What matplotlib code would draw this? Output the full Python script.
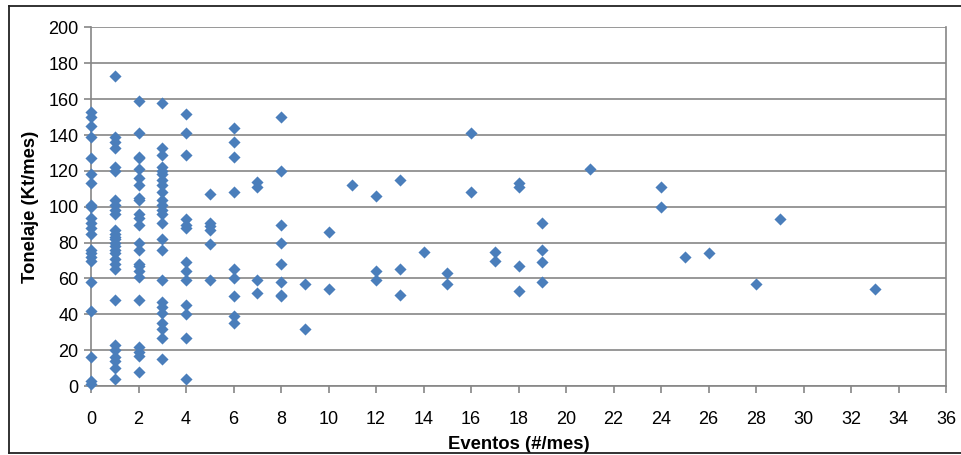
import matplotlib.pyplot as plt
from matplotlib.lines import Line2D

plt.rcParams['font.family'] = ['Liberation Sans', 'DejaVu Sans']

# Eventos (#/mes) and Tonelaje (Kt/mes), read column by column
ev_0 = [153, 150, 145, 139, 127, 118, 113, 101, 100, 94, 91, 88, 85, 76, 74, 72, 70, 58, 42, 16, 3, 1]
ev_1 = [173, 139, 136, 133, 122, 120, 104, 101, 98, 96, 87, 85, 83, 82, 80, 78, 76, 74, 71, 68, 65,
        48, 23, 20, 16, 14, 10, 4]
ev_2 = [159, 141, 128, 127, 121, 116, 112, 105, 104, 96, 94, 90, 80, 76, 68, 67, 64, 61, 48, 22, 19, 17, 8]
ev_3 = [158, 133, 129, 122, 120, 118, 115, 112, 108, 104, 101, 98, 96, 91, 82, 76, 59, 47, 44, 41,
        35, 32, 27, 15]
ev_4 = [152, 141, 129, 93, 90, 88, 69, 64, 59, 45, 40, 27, 4]
ev_5 = [107, 91, 89, 87, 79, 59]
ev_6 = [144, 136, 128, 108, 65, 60, 50, 39, 35]
ev_7 = [114, 111, 59, 52]
ev_8 = [150, 120, 90, 80, 68, 58, 51, 50]
rest_x = [9, 9, 10, 10, 11, 12, 12, 12, 13, 13, 13, 14, 15, 15, 16, 16, 17, 17, 18, 18, 18, 18,
          19, 19, 19, 19, 21, 24, 24, 25, 26, 28, 29, 33]
rest_y = [57, 32, 86, 54, 112, 106, 64, 59, 115, 65, 51, 75, 63, 57, 141, 108, 75, 70, 113, 111, 67, 53,
          91, 76, 69, 58, 121, 111, 100, 72, 74, 57, 93, 54]

columns = [ev_0, ev_1, ev_2, ev_3, ev_4, ev_5, ev_6, ev_7, ev_8]
eventos = []
tonelaje = []
for k, col in enumerate(columns):
    eventos += [k] * len(col)
    tonelaje += col
eventos += rest_x
tonelaje += rest_y

grey = '#868686'

fig = plt.figure(figsize=(9.62, 4.55), dpi=100)
ax = fig.add_axes([0.0946, 0.1516, 0.8888, 0.788])

ax.scatter(eventos, tonelaje, marker='D', s=38, color='#4A7EBB', linewidths=0, zorder=3, clip_on=False)

ax.set_xlim(0, 36)
ax.set_ylim(0, 200)
ax.set_xticks(range(0, 37, 2))
ax.set_yticks(range(0, 201, 20))
ax.yaxis.grid(True, color=grey, linewidth=1.2)
ax.set_axisbelow(True)

for side in ['left', 'bottom', 'right']:
    ax.spines[side].set_color(grey)
    ax.spines[side].set_linewidth(1.2)
ax.spines['top'].set_visible(False)

ax.tick_params(axis='both', color=grey, width=1.2, length=5, labelsize=13, direction='out')
ax.tick_params(axis='x', pad=13)
ax.tick_params(axis='y', pad=4)

ax.set_xlabel('Eventos (#/mes)', fontsize=13.3, fontweight='bold', labelpad=6)
ax.set_ylabel('Tonelaje (Kt/mes)', fontsize=13.3, fontweight='bold', labelpad=7)

# outer chart frame (left, top, bottom edges)
x0, y0, y1 = 8.5 / 962, 1 - 453 / 455, 1 - 6 / 455
for xs, ys in [([x0, x0], [y0, y1]), ([x0, 1], [y1, y1]), ([x0, 1], [y0, y0])]:
    fig.add_artist(Line2D(xs, ys, transform=fig.transFigure, color='#222222', linewidth=1.3))

fig.savefig('out.png', dpi=100)
plt.close(fig)
